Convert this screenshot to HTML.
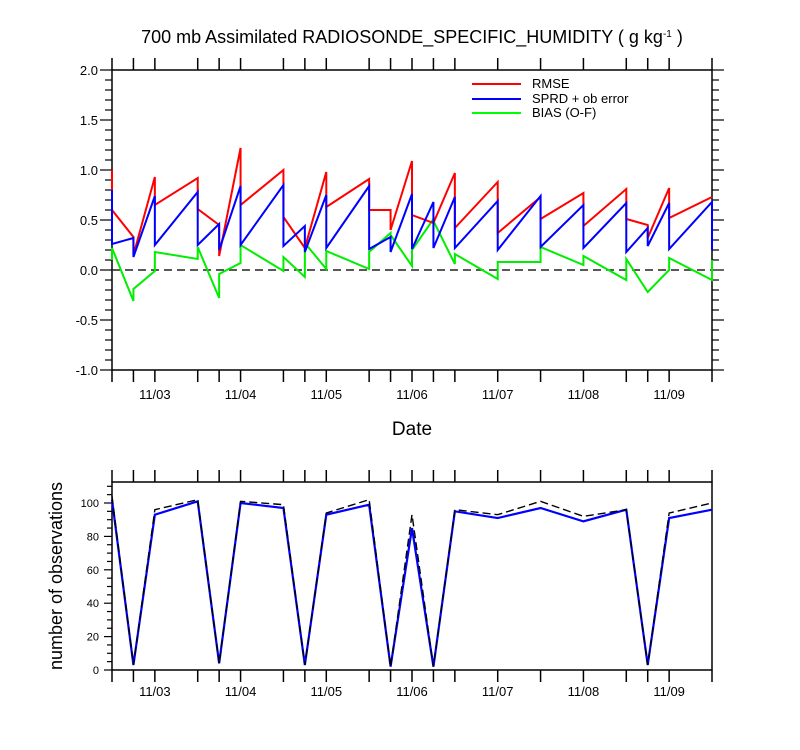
<!DOCTYPE html>
<html><head><meta charset="utf-8"><style>
body{margin:0;background:#fff;}
svg{display:block;font-family:"Liberation Sans",Arial,sans-serif;}
</style></head><body>
<svg id="chart" width="800" height="750" viewBox="0 0 800 750">
<text x="412" y="43" font-size="18" text-anchor="middle">700 mb Assimilated RADIOSONDE_SPECIFIC_HUMIDITY ( g kg<tspan dy="-6" font-size="10">-1</tspan><tspan dy="6"> )</tspan></text>
<text x="412" y="435" font-size="19" text-anchor="middle">Date</text>
<text transform="translate(62,576) rotate(-90)" font-size="18" text-anchor="middle">number of observations</text>
<g id="topPanel"></g>
<g id="botPanel"></g>
<g>
<line x1="472" y1="84" x2="521" y2="84" stroke="#f00" stroke-width="2"/>
<text x="532" y="88" font-size="13">RMSE</text>
<line x1="472" y1="99" x2="521" y2="99" stroke="#00f" stroke-width="2"/>
<text x="532" y="103" font-size="13">SPRD + ob error</text>
<line x1="472" y1="113" x2="521" y2="113" stroke="#0f0" stroke-width="2"/>
<text x="532" y="117" font-size="13">BIAS (O-F)</text>
</g>
</svg>
<script>
// hours since 11/02 12Z
const times = [0,6,12,24,30,36,48,54,60,72,78,84,90,96,108,120,132,144,150,156,168];
const rmseIn  = [1.0,0.33,0.93,0.92,0.45,1.22,1.0,0.22,0.98,0.91,0.60,1.09,0.47,0.97,0.88,0.73,0.77,0.81,0.45,0.82,0.73];
const rmseOut = [0.6,0.15,0.65,0.61,0.14,0.65,0.53,0.22,0.63,0.60,0.40,0.55,0.47,0.42,0.37,0.51,0.44,0.51,0.32,0.52,0.73];
const sprdIn  = [0.8,0.32,0.74,0.78,0.46,0.84,0.85,0.44,0.75,0.84,0.33,0.76,0.68,0.73,0.69,0.74,0.65,0.67,0.42,0.67,0.68];
const sprdOut = [0.26,0.13,0.25,0.25,0.2,0.25,0.24,0.18,0.22,0.21,0.18,0.21,0.22,0.22,0.2,0.23,0.22,0.18,0.24,0.21,0.2];
const biasIn  = [0.1,-0.31,-0.01,0.11,-0.28,0.07,-0.01,-0.07,0.01,0.01,0.37,0.04,0.51,0.06,-0.09,0.08,0.05,-0.1,-0.22,0.0,-0.1];
const biasOut = [0.22,-0.19,0.18,0.23,-0.04,0.25,0.13,0.27,0.19,0.18,0.35,0.2,0.49,0.16,0.08,0.23,0.14,0.11,-0.22,0.12,0.1];
const obsUsed = [102,3,93,101,4,100,97,3,93,99,2,85,2,95,91,97,89,96,3,91,96];
const obsTotal= [104,3,96,102,4,101,99,3,94,102,2,93,2,96,93,101,92,96,3,94,100];
const dayLabels = ["11/03","11/04","11/05","11/06","11/07","11/08","11/09"];
const dayHours = [12,36,60,84,108,132,156];
const topTicks = [-1.0,-0.5,0.0,0.5,1.0,1.5,2.0];
const botTicks = [0,20,40,60,80,100];

const NS="http://www.w3.org/2000/svg";
const X0=112,X1=712;
const xs=t=>X0+t*(X1-X0)/168;
const yTop=v=>270-v*100;
const yBot=v=>670-v*(167/100);
function mk(tag,attrs,parent){const e=document.createElementNS(NS,tag);for(const k in attrs)e.setAttribute(k,attrs[k]);parent.appendChild(e);return e;}
const topG=document.getElementById('topPanel'), botG=document.getElementById('botPanel');

function frame(g,y0,y1,tickLen){
  const r=mk('rect',{x:X0,y:y0,width:X1-X0,height:y1-y0,fill:'none',stroke:'#000','stroke-width':1.5},g);
  
  
  times.forEach(t=>{
    const x=xs(t);
    const a=mk('line',{x1:x,y1:y1,x2:x,y2:y1+tickLen,stroke:'#000','stroke-width':1.5},g);
    
    
    const b=mk('line',{x1:x,y1:y0,x2:x,y2:y0-tickLen,stroke:'#000','stroke-width':1.5},g);
    
    
  });
}
function dayLbl(g,y){
  dayHours.forEach((h,i)=>{
    const t=mk('text',{x:xs(h),y:y,'font-size':13,'text-anchor':'middle'},g);
    t.textContent=dayLabels[i];
    
    
  });
}
function path(g,ins,outs,color,name){
  let d='';
  times.forEach((t,i)=>{const x=xs(t);d+=(i?'L':'M')+x+','+yTop(ins[i])+'L'+x+','+yTop(outs[i]);});
  const p=mk('path',{d:d,fill:'none',stroke:color,'stroke-width':2,'stroke-linejoin':'miter'},g);
  
  
}
// top panel
frame(topG,70,370,12);
for(let i=-10;i<=20;i++){
  const v=i/10;
  const y=yTop(v);const major=(i%5===0);const L=major?12:7;
  const a=mk('line',{x1:X0-L,y1:y,x2:X0,y2:y,stroke:'#000','stroke-width':1.2},topG);
  
  
  const b=mk('line',{x1:X1,y1:y,x2:X1+L,y2:y,stroke:'#000','stroke-width':1.2},topG);
  
  
}
topTicks.forEach(v=>{
  const t=mk('text',{x:X0-14,y:yTop(v)+5,'font-size':13,'text-anchor':'end'},topG);
  t.textContent=v.toFixed(1);
  
  
});
const zl=mk('line',{x1:X0,y1:yTop(0),x2:X1,y2:yTop(0),stroke:'#222','stroke-width':1.5,'stroke-dasharray':'8,5'},topG);


path(topG,biasIn,biasOut,'#00ee00','bias-line');
path(topG,rmseIn,rmseOut,'#ff0000','rmse-line');
path(topG,sprdIn,sprdOut,'#0000ff','sprd-line');
dayLbl(topG,399);

// bottom panel
frame(botG,482,670,12);
for(let v=0;v<=110;v+=5){
  const y=yBot(v);const major=v%20===0;const L=major?8:5;
  const a=mk('line',{x1:X0-L,y1:y,x2:X0,y2:y,stroke:'#000','stroke-width':1.2},botG);
  
  
}
botTicks.forEach(v=>{
  const t=mk('text',{x:X0-13,y:yBot(v)+4,'font-size':11,'text-anchor':'end'},botG);
  t.textContent=v;
  
  
});
function line2(vals,attrs,name){
  const d=times.map((t,i)=>(i?'L':'M')+xs(t)+','+yBot(vals[i])).join('');
  const p=mk('path',Object.assign({d:d,fill:'none'},attrs),botG);
  
  
}
line2(obsUsed,{stroke:'#0000ff','stroke-width':2.2},'obs-used-line');
line2(obsTotal,{stroke:'#000','stroke-width':1.4,'stroke-dasharray':'8,4'},'obs-total-line');
dayLbl(botG,696);
</script>
</body></html>
